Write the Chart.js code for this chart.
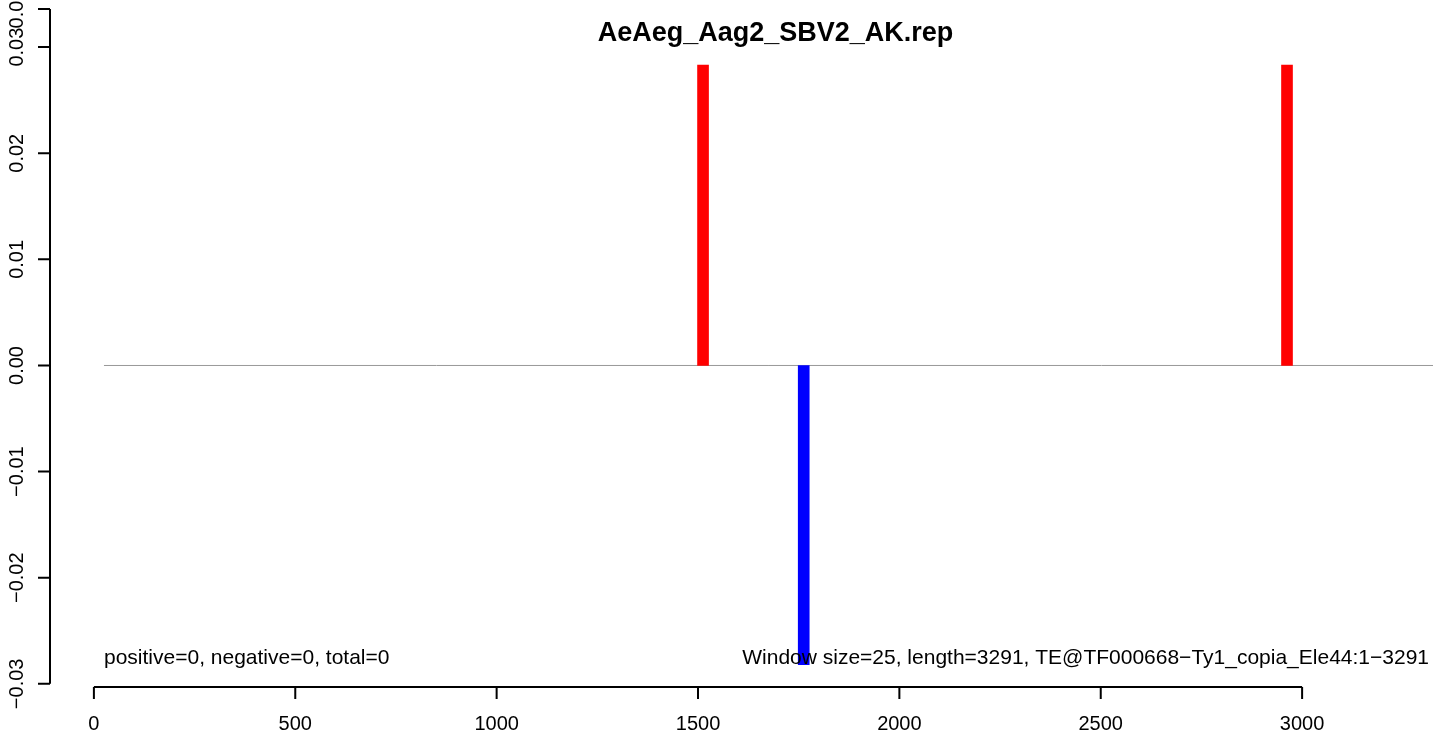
<!DOCTYPE html>
<html>
<head>
<meta charset="utf-8">
<title>AeAeg_Aag2_SBV2_AK.rep</title>
<script src="https://cdn.jsdelivr.net/npm/chart.js@4/dist/chart.umd.min.js"></script>
<style>
	html, body { margin: 0; padding: 0; background: #fff; }
	#wrap { width: 1433px; height: 733px; position: relative; }
</style>
</head>
<body>
<div id="wrap"><canvas id="repChart" width="1433" height="733"></canvas></div>
<script>
// --- data ---
const titleText = "AeAeg_Aag2_SBV2_AK.rep";
const posPositions = [1512.5, 2962.5];
const posValues = [0.0283, 0.0283];
const negPositions = [1762.5];
const negValues = [-0.0282];
const baseLineX = [25, 3340];
const xTicks = [0, 500, 1000, 1500, 2000, 2500, 3000];
const yTicks = [-0.03, -0.02, -0.01, 0, 0.01, 0.02, 0.03, 0.0336];
const yTickLabels = ["\u22120.03", "\u22120.02", "\u22120.01", "0.00", "0.01", "0.02", "0.03", "0.03"];
const leftNote = "positive=0, negative=0, total=0";
const rightNote = "Window size=25, length=3291, TE@TF000668\u2212Ty1_copia_Ele44:1\u22123291";

const FONT = "'Liberation Sans', Arial, Helvetica, sans-serif";

// R-style axes, title and notes drawn on top of the plot
const rAxes = {
	id: "rAxes",
	afterDatasetsDraw(chart) {
		const ctx = chart.ctx;
		const xs = chart.scales.x;
		const ys = chart.scales.y;
		ctx.save();

		// notes inside the plot
		ctx.fillStyle = "#000";
		ctx.font = "21px " + FONT;
		ctx.textBaseline = "alphabetic";
		ctx.textAlign = "left";
		ctx.fillText(leftNote, 104, 664);
		ctx.textAlign = "right";
		ctx.fillText(rightNote, 1429, 664);

		// title
		ctx.font = "bold 27px " + FONT;
		ctx.textAlign = "center";
		ctx.fillText(titleText, 775.5, 41);

		ctx.strokeStyle = "#000";
		ctx.lineWidth = 2;

		// x axis
		const axY = 687;
		const x0 = xs.getPixelForValue(xTicks[0]);
		const x1 = xs.getPixelForValue(xTicks[xTicks.length - 1]);
		ctx.beginPath();
		ctx.moveTo(x0, axY);
		ctx.lineTo(x1, axY);
		xTicks.forEach((t) => {
			const px = xs.getPixelForValue(t);
			ctx.moveTo(px, axY);
			ctx.lineTo(px, axY + 12);
		});
		ctx.stroke();
		ctx.font = "20px " + FONT;
		ctx.textAlign = "center";
		ctx.textBaseline = "alphabetic";
		xTicks.forEach((t) => {
			ctx.fillText(String(t), xs.getPixelForValue(t), 730);
		});

		// y axis
		const axX = 50;
		const yTop = ys.getPixelForValue(yTicks[yTicks.length - 1]);
		const yBot = ys.getPixelForValue(yTicks[0]);
		ctx.beginPath();
		ctx.moveTo(axX, yBot);
		ctx.lineTo(axX, yTop);
		yTicks.forEach((t) => {
			const py = ys.getPixelForValue(t);
			ctx.moveTo(axX, py);
			ctx.lineTo(axX - 12, py);
		});
		ctx.stroke();
		yTicks.forEach((t, i) => {
			const py = ys.getPixelForValue(t);
			ctx.save();
			ctx.translate(23, py);
			ctx.rotate(-Math.PI / 2);
			ctx.textAlign = "center";
			ctx.textBaseline = "alphabetic";
			ctx.fillText(yTickLabels[i], 0, 0);
			ctx.restore();
		});

		ctx.restore();
	},
};

const ctx = document.getElementById("repChart");
new Chart(ctx, {
	type: "bar",
	data: {
		datasets: [
			{
				type: "line",
				data: baseLineX.map((x) => ({ x: x, y: 0 })),
				borderColor: "#999999",
				borderWidth: 1,
				pointRadius: 0,
				order: 3,
			},
			{
				data: posPositions.map((x, i) => ({ x: x, y: posValues[i] })),
				backgroundColor: "#ff0000",
				barThickness: 11,
				grouped: false,
				order: 2,
			},
			{
				data: negPositions.map((x, i) => ({ x: x, y: negValues[i] })),
				backgroundColor: "#0000ff",
				barThickness: 11,
				grouped: false,
				order: 1,
			},
		],
	},
	options: {
		responsive: false,
		animation: false,
		layout: { padding: { left: 50, right: 0, top: 0, bottom: 45 } },
		plugins: {
			legend: { display: false },
			tooltip: { enabled: false },
			title: { display: false },
		},
		scales: {
			x: {
				type: "linear",
				display: false,
				min: -109,
				max: 3325,
				offset: false,
			},
			y: {
				type: "linear",
				display: false,
				min: -0.03039,
				max: 0.03444,
			},
		},
	},
	plugins: [rAxes],
});
</script>
</body>
</html>
